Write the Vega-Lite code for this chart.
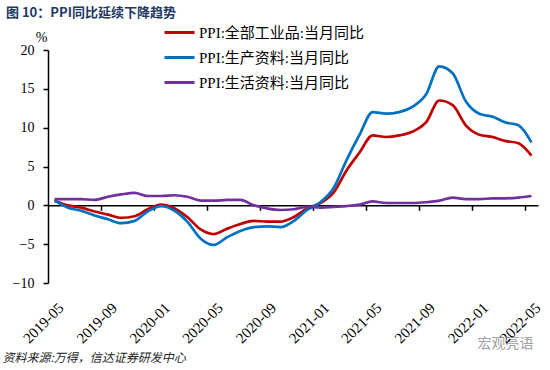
{
  "$schema": "https://vega.github.io/schema/vega-lite/v6.json",
  "autosize": "none",
  "width": 490,
  "height": 233,
  "padding": {"left": 48, "top": 50, "right": 12, "bottom": 87},
  "background": "white",
  "title": {
    "text": "图 10：PPI同比延续下降趋势",
    "font": "Noto Sans CJK SC",
    "fontSize": 13,
    "fontWeight": "bold",
    "color": "#203864",
    "anchor": "start",
    "frame": "group",
    "dx": -42,
    "dy": 4,
    "offset": 0
  },
  "data": {
    "values": [
      {"date": "2019-05-01", "A": 0.6, "B": 0.6, "C": 0.8},
      {"date": "2019-06-01", "A": 0.0, "B": -0.3, "C": 0.8},
      {"date": "2019-07-01", "A": -0.3, "B": -0.7, "C": 0.8},
      {"date": "2019-08-01", "A": -0.8, "B": -1.3, "C": 0.7},
      {"date": "2019-09-01", "A": -1.2, "B": -1.8, "C": 1.1},
      {"date": "2019-10-01", "A": -1.6, "B": -2.3, "C": 1.4},
      {"date": "2019-11-01", "A": -1.4, "B": -2.0, "C": 1.6},
      {"date": "2019-12-01", "A": -0.5, "B": -0.8, "C": 1.2},
      {"date": "2020-01-01", "A": 0.1, "B": -0.1, "C": 1.2},
      {"date": "2020-02-01", "A": -0.4, "B": -0.7, "C": 1.3},
      {"date": "2020-03-01", "A": -1.5, "B": -2.1, "C": 1.1},
      {"date": "2020-04-01", "A": -3.1, "B": -4.3, "C": 0.6},
      {"date": "2020-05-01", "A": -3.7, "B": -5.1, "C": 0.6},
      {"date": "2020-06-01", "A": -3.0, "B": -4.1, "C": 0.7},
      {"date": "2020-07-01", "A": -2.4, "B": -3.3, "C": 0.7},
      {"date": "2020-08-01", "A": -2.0, "B": -2.8, "C": 0.0},
      {"date": "2020-09-01", "A": -2.1, "B": -2.7, "C": -0.4},
      {"date": "2020-10-01", "A": -2.1, "B": -2.8, "C": -0.6},
      {"date": "2020-11-01", "A": -1.5, "B": -2.0, "C": -0.5},
      {"date": "2020-12-01", "A": -0.4, "B": -0.6, "C": -0.2},
      {"date": "2021-01-01", "A": 0.3, "B": 0.4, "C": -0.3},
      {"date": "2021-02-01", "A": 1.7, "B": 2.3, "C": -0.2},
      {"date": "2021-03-01", "A": 4.4, "B": 5.7, "C": -0.1},
      {"date": "2021-04-01", "A": 6.8, "B": 9.1, "C": 0.1},
      {"date": "2021-05-01", "A": 9.0, "B": 12.0, "C": 0.5},
      {"date": "2021-06-01", "A": 8.8, "B": 11.8, "C": 0.3},
      {"date": "2021-07-01", "A": 9.0, "B": 12.0, "C": 0.3},
      {"date": "2021-08-01", "A": 9.5, "B": 12.7, "C": 0.3},
      {"date": "2021-09-01", "A": 10.7, "B": 14.3, "C": 0.4},
      {"date": "2021-10-01", "A": 13.5, "B": 17.9, "C": 0.6},
      {"date": "2021-11-01", "A": 12.9, "B": 17.0, "C": 1.0},
      {"date": "2021-12-01", "A": 10.3, "B": 13.4, "C": 0.8},
      {"date": "2022-01-01", "A": 9.1, "B": 11.8, "C": 0.8},
      {"date": "2022-02-01", "A": 8.8, "B": 11.4, "C": 0.9},
      {"date": "2022-03-01", "A": 8.3, "B": 10.7, "C": 0.9},
      {"date": "2022-04-01", "A": 8.0, "B": 10.3, "C": 1.0},
      {"date": "2022-05-01", "A": 6.4, "B": 8.1, "C": 1.2}
    ]
  },
  "transform": [
    {"fold": ["A", "B", "C"], "as": ["key", "value"]},
    {"lookup": "key", "from": {"data": {"values": [
      {"key": "A", "series": "PPI:全部工业品:当月同比"},
      {"key": "B", "series": "PPI:生产资料:当月同比"},
      {"key": "C", "series": "PPI:生活资料:当月同比"}
    ]}, "key": "key", "fields": ["series"]}}
  ],
  "layer": [
    {
      "mark": {"type": "line", "opacity": 0},
      "encoding": {
        "x": {
          "field": "date", "type": "temporal",
          "scale": {"type": "utc", "domain": ["2019-04-16", "2022-05-16"], "nice": false},
          "axis": {
            "orient": "bottom",
            "offset": -77.7,
            "labels": false,
            "grid": false,
            "domain": true,
            "domainColor": "black",
            "domainWidth": 1.5,
            "ticks": true,
            "tickColor": "black",
            "tickWidth": 1.5,
            "tickSize": 5,
            "values": [
              {"year": 2019, "month": 8, "date": 16, "utc": true},
              {"year": 2019, "month": 12, "date": 16, "utc": true},
              {"year": 2020, "month": 4, "date": 16, "utc": true},
              {"year": 2020, "month": 8, "date": 16, "utc": true},
              {"year": 2020, "month": 12, "date": 16, "utc": true},
              {"year": 2021, "month": 4, "date": 16, "utc": true},
              {"year": 2021, "month": 8, "date": 16, "utc": true},
              {"year": 2021, "month": 12, "date": 16, "utc": true},
              {"year": 2022, "month": 4, "date": 16, "utc": true}
            ],
            "title": "宏观亮语",
            "titleFont": "Noto Sans CJK SC",
            "titleFontSize": 14,
            "titleFontWeight": "normal",
            "titleColor": "#a0a0a0",
            "titleAnchor": "start",
            "titleAlign": "left",
            "titleBaseline": "middle",
            "titleX": 429,
            "titleY": 138
          }
        },
        "y": {
          "field": "value", "type": "quantitative",
          "scale": {"domain": [-10, 20], "nice": false, "zero": false},
          "axis": {
            "values": [-10, -5, 0, 5, 10, 15, 20],
            "labelOverlap": false,
            "grid": false,
            "domainColor": "black",
            "domainWidth": 1.5,
            "tickColor": "black",
            "tickWidth": 1.5,
            "tickSize": 5,
            "labelPadding": 9,
            "labelFont": "Liberation Serif",
            "labelFontSize": 14,
            "labelColor": "black",
            "title": "%",
            "titleAngle": 0,
            "titleFont": "Liberation Serif",
            "titleFontSize": 14,
            "titleFontWeight": "normal",
            "titleColor": "black",
            "titleAlign": "center",
            "titleBaseline": "bottom",
            "titleX": -7,
            "titleY": -6
          }
        },
        "detail": {"field": "series"}
      }
    },
    {
      "mark": {"type": "line", "strokeWidth": 2.7, "interpolate": "monotone"},
      "encoding": {
        "x": {
          "field": "date", "type": "temporal",
          "axis": {
            "orient": "bottom",
            "domain": false,
            "ticks": false,
            "grid": false,
            "labelExpr": "utcFormat(datum.value, '%Y-%m')",
            "values": [
              {"year": 2019, "month": 5, "date": 1, "utc": true},
              {"year": 2019, "month": 9, "date": 1, "utc": true},
              {"year": 2020, "month": 1, "date": 1, "utc": true},
              {"year": 2020, "month": 5, "date": 1, "utc": true},
              {"year": 2020, "month": 9, "date": 1, "utc": true},
              {"year": 2021, "month": 1, "date": 1, "utc": true},
              {"year": 2021, "month": 5, "date": 1, "utc": true},
              {"year": 2021, "month": 9, "date": 1, "utc": true},
              {"year": 2022, "month": 1, "date": 1, "utc": true},
              {"year": 2022, "month": 5, "date": 1, "utc": true}
            ],
            "labelAngle": -45,
            "labelAlign": "right",
            "labelBaseline": "top",
            "labelPadding": 17,
            "labelOffset": 1,
            "labelFont": "Liberation Serif",
            "labelFontSize": 15,
            "labelColor": "black",
            "labelOverlap": false,
            "labelBound": false,
            "labelFlush": false,
            "title": "资料来源:万得，信达证券研发中心",
            "titleFont": "Noto Sans CJK SC",
            "titleFontSize": 12,
            "titleFontWeight": "normal",
            "titleFontStyle": "italic",
            "titleColor": "#222222",
            "titleAnchor": "start",
            "titleAlign": "left",
            "titleBaseline": "middle",
            "titleX": -46,
            "titleY": 74
          }
        },
        "y": {
          "field": "value", "type": "quantitative",
          "scale": {"domain": [-10, 20], "nice": false, "zero": false},
          "axis": {
            "values": [-10, -5, 0, 5, 10, 15, 20],
            "labelOverlap": false,
            "grid": false,
            "domainColor": "black",
            "domainWidth": 1.5,
            "tickColor": "black",
            "tickWidth": 1.5,
            "tickSize": 5,
            "labelPadding": 9,
            "labelFont": "Liberation Serif",
            "labelFontSize": 14,
            "labelColor": "black",
            "title": "%",
            "titleAngle": 0,
            "titleFont": "Liberation Serif",
            "titleFontSize": 14,
            "titleFontWeight": "normal",
            "titleColor": "black",
            "titleAlign": "center",
            "titleBaseline": "bottom",
            "titleX": -7,
            "titleY": -6
          }
        },
        "color": {
          "field": "series", "type": "nominal",
          "scale": {
            "domain": ["PPI:全部工业品:当月同比", "PPI:生产资料:当月同比", "PPI:生活资料:当月同比"],
            "range": ["#C00000", "#0070C0", "#7030A0"]
          },
          "legend": {
            "orient": "none",
            "legendX": 115,
            "legendY": -34,
            "title": null,
            "symbolType": "stroke",
            "symbolStrokeWidth": 3,
            "symbolSize": 900,
            "labelFont": "Liberation Serif, Noto Sans CJK SC",
            "labelFontSize": 15,
            "labelColor": "black",
            "labelOffset": 3,
            "rowPadding": -9,
            "padding": 0,
            "labelLimit": 400
          }
        }
      }
    }
  ],
  "resolve": {"axis": {"x": "independent"}},
  "config": {"view": {"stroke": null}}
}
